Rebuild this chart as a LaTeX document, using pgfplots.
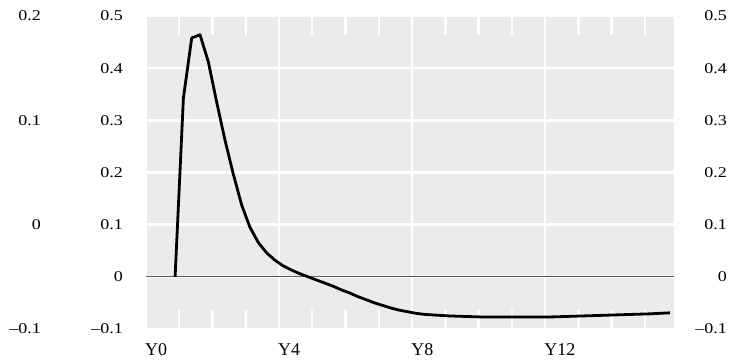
\documentclass[border=0pt]{standalone}
\usepackage{fontspec}
\setmainfont{Liberation Serif}
\newfontfamily\ticksfont{Liberation Serif}[FakeStretch=1.2]
\usepackage{pgfplots}
\pgfplotsset{compat=1.18}
\definecolor{panel}{HTML}{E9ECEB}
\definecolor{zeroline}{HTML}{5A5F5E}

\pgfplotsset{
  scalebox/.style={
    scale only axis, width=528pt, height=313pt,
    xmin=0, xmax=15.875,
  },
  sidescale/.style={
    scalebox,
    axis line style={draw=none},
    xtick=\empty,
    ytick style={draw=none},
    major tick length=0pt,
  },
}

\begin{document}
\begin{tikzpicture}[x=1pt,y=1pt]
\useasboundingbox (-146,-35) rectangle (594,329);

% outer left scale
\begin{axis}[
  sidescale,
  ymin=-0.1, ymax=0.2,
  ytick={-0.1,0,0.1,0.2},
  yticklabels={\textendash0.1,0,0.1,0.2},
  yticklabel style={font=\fontsize{15}{15}\ticksfont, anchor=east, inner sep=0pt, xshift=-105pt},
]
\addplot[draw=none] coordinates {(0,0)};
\end{axis}

% main panel
\begin{axis}[
  scalebox,
  ymin=-0.1, ymax=0.5,
  axis background/.style={fill=panel},
  axis line style={draw=none},
  ytick={-0.1,0,0.1,0.2,0.3,0.4,0.5},
  yticklabels={\textendash0.1,0,0.1,0.2,0.3,0.4,0.5},
  ytick style={draw=none},
  ymajorgrids, y grid style={white, line width=2.4pt},
  xtick={0,4,8,12},
  xticklabels={Y0,Y4,Y8,Y12},
  minor xtick={1,2,3,5,6,7,9,10,11,13,14,15},
  xmajorgrids, x grid style={white, line width=2.4pt},
  xtick pos=both, tick align=inside,
  major tick length=19pt, minor tick length=19pt,
  xtick style={draw=white, line width=2.4pt},
  minor x tick style={draw=white, line width=2.4pt},
  yticklabel style={font=\fontsize{15}{15}\ticksfont, anchor=east, inner sep=0pt, xshift=-23pt},
  xticklabel style={font=\fontsize{18}{18}\selectfont, anchor=north west, inner sep=0pt, yshift=-14pt, xshift=-1pt},
  clip=false,
]
\addplot[zeroline, line width=1.3pt] coordinates {(0,0) (15.875,0)};
\addplot[black, line width=2.8pt, line join=round] coordinates {
(0.875,0) (1.125,0.343) (1.375,0.458) (1.625,0.464) (1.875,0.412)
(2.125,0.335) (2.375,0.262) (2.625,0.197) (2.875,0.138) (3.125,0.095)
(3.375,0.066) (3.625,0.046) (3.875,0.032) (4.125,0.021) (4.375,0.013)
(4.625,0.006) (4.875,0.000) (5.125,-0.006) (5.375,-0.012) (5.625,-0.018)
(5.875,-0.025) (6.125,-0.031) (6.375,-0.038) (6.625,-0.044) (6.875,-0.050)
(7.125,-0.055) (7.375,-0.060) (7.625,-0.064) (7.875,-0.067) (8.125,-0.070)
(8.375,-0.072) (8.625,-0.073) (8.875,-0.074) (9.125,-0.075) (9.625,-0.076)
(10.125,-0.077) (10.625,-0.077) (11.125,-0.077) (11.625,-0.077) (12.125,-0.077)
(12.625,-0.076) (13.125,-0.075) (13.625,-0.074) (14.125,-0.073) (14.625,-0.072)
(15.125,-0.071) (15.75,-0.069)
};
\end{axis}

% right scale
\begin{axis}[
  sidescale,
  ymin=-0.1, ymax=0.5,
  ytick={-0.1,0,0.1,0.2,0.3,0.4,0.5},
  yticklabels={\textendash0.1,0,0.1,0.2,0.3,0.4,0.5},
  yticklabel pos=right,
  yticklabel style={font=\fontsize{15}{15}\ticksfont, anchor=east, inner sep=0pt, xshift=53pt},
]
\addplot[draw=none] coordinates {(0,0)};
\end{axis}
\end{tikzpicture}
\end{document}
